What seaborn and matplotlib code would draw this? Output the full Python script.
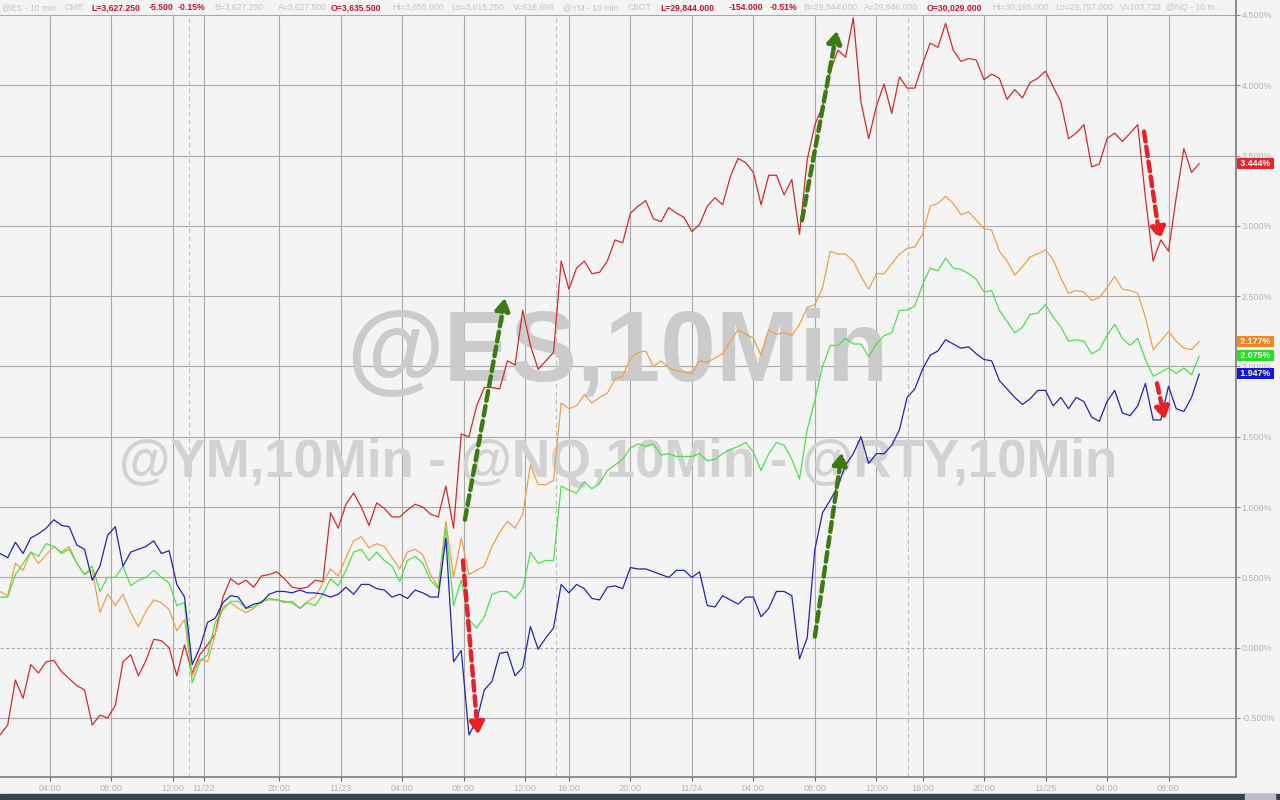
import matplotlib.pyplot as plt
import numpy as np
import pandas as pd
import seaborn as sns
from matplotlib.patches import Rectangle

# % change series, one value every 30 min of trading time
rty = [-0.62, -0.55, -0.23, -0.36, -0.12, -0.18, -0.10, -0.09, -0.17, -0.22,
       -0.27, -0.30, -0.55, -0.48, -0.50, -0.41, -0.10, -0.05, -0.20, -0.09,
       0.06, 0.05, 0.00, -0.20, 0.02, -0.18, -0.05, 0.02, 0.10, 0.36,
       0.49, 0.45, 0.48, 0.43, 0.51, 0.52, 0.54, 0.49, 0.43, 0.42,
       0.43, 0.48, 0.47, 0.96, 0.85, 1.02, 1.10, 1.00, 0.87, 1.03,
       0.99, 0.93, 0.93, 0.98, 1.02, 1.00, 0.95, 0.93, 1.15, 0.85,
       1.52, 1.50, 1.72,
       1.85, 1.85, 1.84, 2.04, 2.01, 2.40, 2.15, 1.98, 2.04, 2.10,
       2.75, 2.55, 2.70, 2.75, 2.66, 2.67, 2.75, 2.90, 2.88, 3.09,
       3.14, 3.18, 3.05, 3.03, 3.13, 3.09, 3.06, 2.96, 3.01, 3.14,
       3.20, 3.15, 3.35, 3.48, 3.45, 3.38, 3.15, 3.36, 3.36, 3.22,
       3.33, 2.94, 3.47, 3.72, 3.85, 4.10, 4.25, 4.20, 4.48,
       3.88, 3.62, 3.85, 4.01, 3.80, 4.06, 3.98, 3.98, 4.15, 4.30,
       4.27, 4.44, 4.25, 4.17, 4.19, 4.18, 4.04, 4.08, 4.05, 3.90,
       3.97, 3.91, 4.02, 4.05, 4.10, 3.99, 3.88, 3.62, 3.66, 3.72,
       3.42, 3.44, 3.62, 3.66, 3.60, 3.66, 3.72, 3.20, 2.75, 2.90,
       2.82, 3.20, 3.55, 3.38, 3.444]

ym = [0.40, 0.37, 0.60, 0.55, 0.68, 0.60, 0.66, 0.72, 0.68, 0.72,
      0.60, 0.52, 0.55, 0.25, 0.38, 0.30, 0.38, 0.25, 0.15, 0.26,
      0.34, 0.32, 0.27, 0.12, 0.20, -0.20, -0.08, -0.10, 0.10, 0.29,
      0.32, 0.28, 0.25, 0.28, 0.33, 0.34, 0.34, 0.32, 0.33, 0.28,
      0.33, 0.36, 0.46, 0.56, 0.51, 0.64, 0.76, 0.79, 0.71, 0.74,
      0.72, 0.64, 0.56, 0.68, 0.70, 0.66, 0.52, 0.43, 0.90, 0.50,
      0.78, 0.52, 0.55,
      0.58, 0.72, 0.82, 0.90, 0.85, 0.95, 1.30, 1.16, 1.16, 1.19,
      1.74, 1.70, 1.72, 1.80, 1.74, 1.78, 1.81, 1.91, 1.93, 2.06,
      2.10, 2.11, 2.00, 2.04, 1.99, 1.97, 1.96, 1.95, 2.04, 2.03,
      2.06, 2.09, 2.18, 2.26, 2.23, 2.20, 2.08, 2.26, 2.23, 2.24,
      2.22, 2.30, 2.42, 2.44, 2.56, 2.82, 2.80, 2.80, 2.75,
      2.64, 2.55, 2.66, 2.66, 2.73, 2.80, 2.84, 2.85, 2.94, 3.14,
      3.16, 3.21, 3.16, 3.08, 3.10, 3.04, 2.98, 2.97, 2.82, 2.75,
      2.65, 2.71, 2.78, 2.80, 2.83, 2.76, 2.63, 2.52, 2.54, 2.53,
      2.47, 2.49, 2.56, 2.64, 2.55, 2.54, 2.52, 2.35, 2.12, 2.18,
      2.25, 2.18, 2.13, 2.12, 2.177]

es = [0.36, 0.36, 0.52, 0.60, 0.68, 0.65, 0.74, 0.72, 0.67, 0.70,
      0.60, 0.52, 0.58, 0.40, 0.50, 0.50, 0.58, 0.44, 0.48, 0.50,
      0.55, 0.50, 0.46, 0.30, 0.32, -0.25, -0.10, -0.05, 0.18, 0.27,
      0.33, 0.33, 0.28, 0.29, 0.33, 0.35, 0.34, 0.33, 0.32, 0.28,
      0.32, 0.30, 0.38, 0.49, 0.44, 0.55, 0.68, 0.70, 0.62, 0.68,
      0.62, 0.58, 0.47, 0.62, 0.65, 0.60, 0.48, 0.42, 0.85, 0.30,
      0.48, 0.20, 0.14,
      0.22, 0.38, 0.40, 0.40, 0.35, 0.42, 0.68, 0.60, 0.62, 0.62,
      1.15, 1.12, 1.10, 1.18, 1.13, 1.17, 1.26, 1.30, 1.34, 1.42,
      1.45, 1.43, 1.45, 1.37, 1.38, 1.36, 1.36, 1.36, 1.38, 1.33,
      1.34, 1.38, 1.41, 1.43, 1.46, 1.39, 1.26, 1.38, 1.46, 1.44,
      1.34, 1.20, 1.55, 1.76, 2.00, 2.15, 2.15, 2.20, 2.16,
      2.16, 2.07, 2.16, 2.22, 2.24, 2.40, 2.40, 2.43, 2.58, 2.70,
      2.68, 2.77, 2.70, 2.69, 2.66, 2.62, 2.53, 2.54, 2.40, 2.32,
      2.24, 2.28, 2.37, 2.38, 2.44, 2.35, 2.28, 2.18, 2.19, 2.18,
      2.09, 2.12, 2.22, 2.30, 2.20, 2.15, 2.20, 2.05, 1.93, 1.96,
      1.99, 1.95, 1.99, 1.94, 2.075]

nq = [0.67, 0.64, 0.75, 0.67, 0.78, 0.81, 0.85, 0.91, 0.87, 0.86,
      0.73, 0.70, 0.48, 0.58, 0.80, 0.86, 0.58, 0.68, 0.70, 0.72,
      0.76, 0.67, 0.69, 0.45, 0.36, -0.12, 0.00, 0.18, 0.21, 0.32,
      0.37, 0.36, 0.28, 0.31, 0.32, 0.38, 0.40, 0.40, 0.39, 0.41,
      0.39, 0.39, 0.38, 0.36, 0.38, 0.43, 0.38, 0.45, 0.45, 0.42,
      0.41, 0.36, 0.38, 0.35, 0.41, 0.39, 0.36, 0.36, 0.78, -0.10,
      -0.02, -0.62, -0.52,
      -0.30, -0.24, -0.04, -0.03, -0.20, -0.14, 0.15, -0.01, 0.07, 0.14,
      0.45, 0.39, 0.45, 0.42, 0.35, 0.34, 0.43, 0.44, 0.42, 0.57,
      0.56, 0.56, 0.54, 0.52, 0.50, 0.55, 0.55, 0.50, 0.54, 0.30,
      0.29, 0.37, 0.34, 0.31, 0.36, 0.36, 0.22, 0.28, 0.40, 0.40,
      0.37, -0.08, 0.07, 0.70, 0.96, 1.05, 1.15, 1.30, 1.38,
      1.50, 1.31, 1.38, 1.38, 1.44, 1.55, 1.78, 1.84, 1.98, 2.08,
      2.11, 2.19, 2.16, 2.13, 2.14, 2.09, 2.05, 2.04, 1.90, 1.84,
      1.78, 1.73, 1.77, 1.83, 1.83, 1.72, 1.78, 1.70, 1.78, 1.75,
      1.64, 1.61, 1.75, 1.83, 1.67, 1.65, 1.72, 1.88, 1.62, 1.62,
      1.86, 1.70, 1.68, 1.78, 1.947]

series_colors = {"RTY": "#d42a2a", "YM": "#f0a04c", "ES": "#4ee04e", "NQ": "#2424b4"}
tag_colors = {"RTY": "#e8242a", "YM": "#f5861f", "ES": "#22e022", "NQ": "#1414e6"}

# x axis: trading hours since start (session gaps removed)
tick_hours = [3.25, 7.25, 11.25, 13.25, 18.15, 22.15, 26.15, 30.15, 34.15, 37.0,
              41.0, 45.0, 49.0, 53.0, 57.0, 60.0, 64.0, 68.0, 72.0, 76.0]
tick_labels = ["04:00", "08:00", "12:00", "11/22", "20:00", "11/23", "04:00", "08:00",
               "12:00", "16:00", "20:00", "11/24", "04:00", "08:00", "12:00", "16:00",
               "20:00", "11/25", "04:00", "08:00"]
session_breaks = [12.3, 36.15, 59.05]
pct_ticks = [-0.5, 0.0, 0.5, 1.0, 1.5, 2.0, 2.5, 3.0, 3.5, 4.0, 4.5]

# dashed call-out arrows (start -> end), in hours / %
arrows = [((30.24, 0.91), (32.85, 2.49), "#3d7a12"),
          ((30.11, 0.62), (31.09, -0.62), "#e8202a"),
          ((52.16, 3.04), (54.44, 4.39), "#3d7a12"),
          ((53.00, 0.08), (54.76, 1.39), "#3d7a12"),
          ((74.41, 3.67), (75.45, 2.90), "#e8202a"),
          ((75.25, 1.88), (75.77, 1.62), "#e8202a")]

header = [(2, "@ES - 10 min", 0), (65, "CME", 0), (91, "L=3,627.250", 1), (149, "-5.500", 1),
          (178, "-0.15%", 1), (214, "B=3,627.250", 0), (278, "A=3,627.500", 0),
          (331, "O=3,635.500", 1), (392, "Hi=3,655.000", 0), (451, "Lo=3,615.250", 0),
          (513, "V=616,698", 0), (563, "@YM - 10 min", 0), (628, "CBOT", 0),
          (660, "L=29,844.000", 1), (729, "-154.000", 1), (770, "-0.51%", 1),
          (803, "B=29,844.000", 0), (864, "A=29,846.000", 0), (927, "O=30,029.000", 1),
          (992, "Hi=30,165.000", 0), (1055, "Lo=29,757.000", 0), (1120, "V=103,733", 0),
          (1166, "@NQ - 10 m...", 0)]

hours = np.arange(len(rty)) * 0.5
df = pd.DataFrame({"hours": hours, "RTY": rty, "YM": ym, "ES": es, "NQ": nq})
long_df = df.melt(id_vars="hours", var_name="contract", value_name="pct")

sns.set_theme(style="white")
plt.rcParams['font.family'] = ['Liberation Sans', 'DejaVu Sans']

bg = "#f4f4f4"
fig = plt.figure(figsize=(12.8, 8), dpi=100, facecolor=bg)
ax = fig.add_axes([0, 23.3 / 800, 1236 / 1280, 776.7 / 800])
ax.set_facecolor(bg)

y_lo, y_hi = -0.9175, 4.6066
ax.set_xlim(0, 1236 / 15.375)
ax.set_ylim(y_lo, y_hi)

# grid
top_frac = (4.5 - y_lo) / (y_hi - y_lo)
for v in pct_ticks:
    ax.axhline(v, color="#a9a9a9", lw=0.8, ls=(0, (3, 2)) if v == 0 else "-", zorder=1)
for h in tick_hours:
    ax.axvline(h, ymax=top_frac, color="#a9a9a9", lw=0.8, zorder=1)
for h in session_breaks:
    ax.axvline(h, ymax=top_frac, color="#bdbdbd", lw=0.8, ls=(0, (4, 3)), zorder=1)

# watermarks
ax.text(0.4992, 0.5429, "@ES,10Min", transform=ax.transAxes, ha="center", va="center",
        fontsize=72, fontweight="bold", color="#cbcbcb", zorder=2)
ax.text(0.5, 0.4039, "@YM,10Min - @NQ,10Min - @RTY,10Min", transform=ax.transAxes,
        ha="center", va="center", fontsize=38, fontweight="bold", color="#d2d2d2", zorder=2)

sns.lineplot(data=long_df, x="hours", y="pct", hue="contract", palette=series_colors,
             linewidth=0.9, legend=False, ax=ax, zorder=3)

for (x0, y0), (x1, y1), c in arrows:
    ax.annotate("", xy=(x1, y1), xytext=(x0, y0),
                arrowprops=dict(arrowstyle="-|>,head_length=0.6,head_width=0.35", color=c,
                                lw=3.2, ls=(0, (2.2, 1.2)), shrinkA=0, shrinkB=0),
                zorder=4)

# axes styling
ax.yaxis.tick_right()
ax.set_yticks(pct_ticks)
ax.set_yticklabels([f"{v:.3f}%" for v in pct_ticks])
ax.set_xticks(tick_hours)
ax.set_xticklabels(tick_labels)
ax.tick_params(axis="y", labelsize=6.5, labelcolor="#b3b3b3", color="#888888",
               length=3, width=0.8, pad=1, right=True)
ax.tick_params(axis="x", labelsize=6.6, labelcolor="#b3b3b3", color="#666666",
               length=3, width=0.8, pad=2, bottom=True)
ax.set_xlabel("")
ax.set_ylabel("")
for side in ["left", "top"]:
    ax.spines[side].set_visible(False)
for side in ["right", "bottom"]:
    ax.spines[side].set_color("#7a7a7a")
    ax.spines[side].set_linewidth(1.2)

# last-value tags on the right axis
for name in ["RTY", "YM", "ES", "NQ"]:
    last = df[name].iloc[-1]
    ax.annotate(f" {last:.3f}% ", xy=(1.0, last), xycoords=("axes fraction", "data"),
                xytext=(1.5, 0), textcoords="offset points", ha="left", va="center",
                fontsize=6.3, fontweight="bold", color="white", annotation_clip=False,
                bbox=dict(boxstyle="square,pad=0.12", fc=tag_colors[name], ec="none"),
                zorder=5)

# header quote strip
for x_px, txt, hot in header:
    fig.text(x_px / 1280, 1 - 7.5 / 800, txt, ha="left", va="center", fontsize=6.2,
             color="#c8102e" if hot else "#c4c4c4", fontweight="bold" if hot else "normal")

# dark scrollbar strip at the bottom
fig.patches.append(Rectangle((0, 0), 1, 6.5 / 800, transform=fig.transFigure,
                             color="#39414a", zorder=0))
fig.patches.append(Rectangle((1245 / 1280, 0), 30 / 1280, 6.5 / 800,
                             transform=fig.transFigure, color="#b9bec6", zorder=1))

fig.savefig("out.png", dpi=100, facecolor=bg)
